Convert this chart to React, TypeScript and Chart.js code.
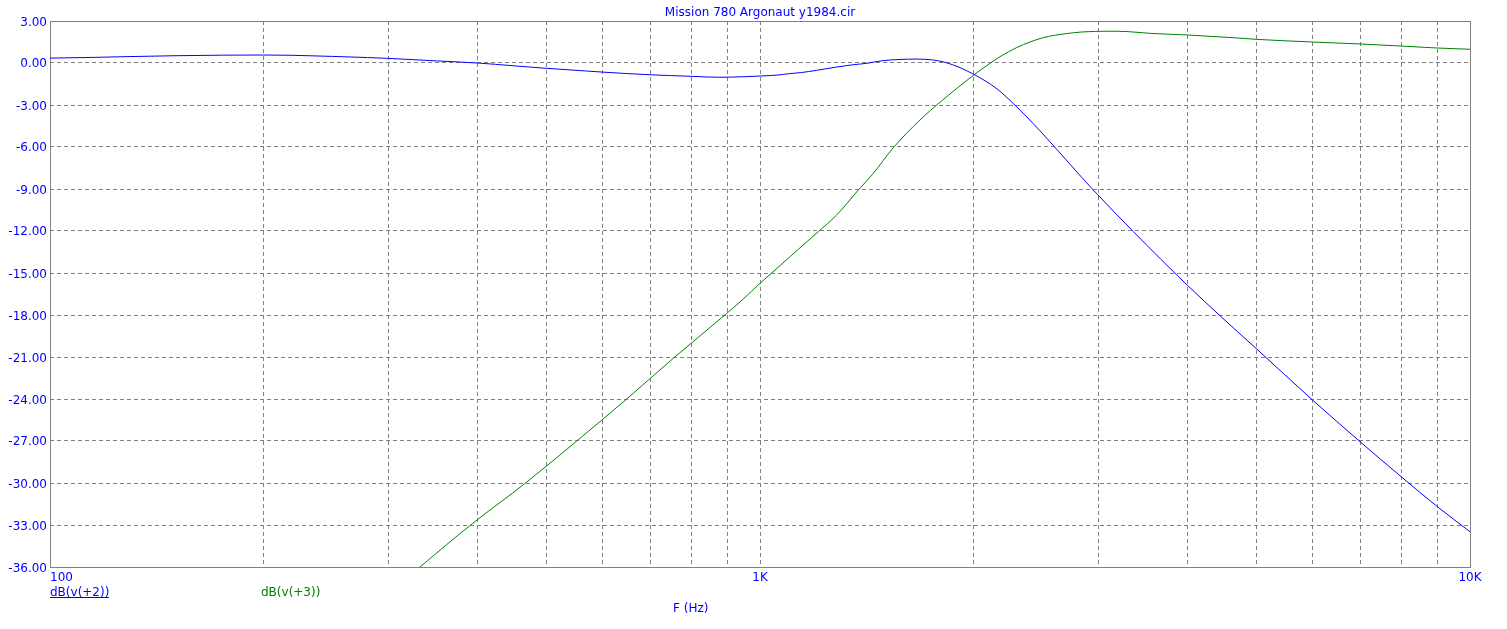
import React, { useEffect, useRef } from 'react';
import { Chart, registerables } from 'chart.js';

Chart.register(...registerables);

const TITLE = 'Mission 780 Argonaut y1984.cir';
const X_AXIS_TITLE = 'F (Hz)';
const SERIES_NAMES = ['dB(v(+2))', 'dB(v(+3))'];
const SERIES_COLORS = ['#0000ff', '#008000'];

const X_TICK_VALUES = [100, 1000, 10000];
const X_TICK_LABELS = ['100', '1K', '10K'];
const X_GRID_VALUES = [100, 200, 300, 400, 500, 600, 700, 800, 900, 1000, 2000, 3000, 4000, 5000, 6000, 7000, 8000, 9000, 10000];
const Y_TICK_VALUES = [-36, -33, -30, -27, -24, -21, -18, -15, -12, -9, -6, -3, 0, 3];

// dB(v(+2)) — blue
const blueFreq = [100, 115, 130, 150, 175, 200, 220, 250, 280, 300, 350, 400, 450, 500, 600, 700, 800, 875, 950, 1000, 1060, 1100, 1140, 1200, 1267, 1340, 1415, 1490, 1570, 1660, 1750, 1822, 1913, 2000, 2080, 2157, 2272, 2424, 2535, 2947, 3357, 4000, 4467, 5000, 6000, 7000, 8000, 9000, 10000];
const blueDb = [0.35, 0.4, 0.46, 0.52, 0.56, 0.57, 0.55, 0.47, 0.39, 0.33, 0.15, 0.0, -0.2, -0.38, -0.65, -0.84, -0.95, -1.02, -0.98, -0.93, -0.86, -0.76, -0.69, -0.53, -0.33, -0.15, -0.02, 0.17, 0.25, 0.28, 0.22, 0.05, -0.33, -0.81, -1.3, -1.85, -2.88, -4.31, -5.38, -9.07, -12.05, -15.88, -18.15, -20.4, -24.07, -27.05, -29.55, -31.7, -33.48];

// dB(v(+3)) — green
const greenFreq = [310, 332, 394, 467, 552, 649, 755, 898, 947, 1000, 1208, 1282, 1376, 1444, 1541, 1680, 1803, 2000, 2109, 2178, 2299, 2400, 2500, 2600, 2700, 2850, 3100, 3300, 3540, 4000, 4635, 5000, 6000, 7000, 8000, 9000, 10000];
const greenDb = [-37.3, -36.0, -32.88, -30.02, -27.0, -24.0, -21.09, -17.88, -16.86, -15.74, -12.05, -10.86, -9.07, -7.88, -6.05, -4.07, -2.7, -0.86, -0.02, 0.45, 1.1, 1.5, 1.8, 1.98, 2.1, 2.22, 2.27, 2.24, 2.12, 2.0, 1.81, 1.69, 1.5, 1.36, 1.21, 1.07, 0.98];

const FONT = '12px "DejaVu Sans"';
const TEXT_BLUE = '#0000ff';
const FRAME = '#808080';

const overlayPlugin = {
  id: 'overlay',
  beforeDatasetsDraw(chart: any) {
    const { ctx, chartArea } = chart;
    ctx.save();
    ctx.strokeStyle = FRAME;
    ctx.lineWidth = 1;
    ctx.setLineDash([]);
    ctx.strokeRect(chartArea.left + 0.5, chartArea.top + 0.5, chartArea.right - chartArea.left, chartArea.bottom - chartArea.top);
    ctx.restore();
  },
  afterDraw(chart: any) {
    const { ctx, chartArea, scales } = chart;
    const xs = scales.x;
    const ys = scales.y;
    ctx.save();
    ctx.font = FONT;
    ctx.fillStyle = TEXT_BLUE;
    ctx.textBaseline = 'alphabetic';

    // title
    ctx.textAlign = 'center';
    ctx.fillText(TITLE, (chartArea.left + chartArea.right) / 2, 16);

    // y tick labels
    ctx.textAlign = 'right';
    Y_TICK_VALUES.forEach((v) => {
      const py = ys.getPixelForValue(v);
      ctx.fillText(v.toFixed(2), chartArea.left - 3, Math.round(py + 4.5));
    });

    // x tick labels
    X_TICK_VALUES.forEach((v, i) => {
      const px = xs.getPixelForValue(v);
      ctx.textAlign = i === 0 ? 'left' : 'center';
      ctx.fillText(X_TICK_LABELS[i], i === 0 ? chartArea.left : px, chartArea.bottom + 14);
    });

    // series legend
    ctx.textAlign = 'left';
    const legY = chartArea.bottom + 29;
    ctx.fillStyle = SERIES_COLORS[0];
    ctx.fillText(SERIES_NAMES[0], chartArea.left, legY);
    const w0 = ctx.measureText(SERIES_NAMES[0]).width;
    ctx.fillRect(chartArea.left, legY + 1, Math.round(w0), 1);
    ctx.fillStyle = SERIES_COLORS[1];
    ctx.fillText(SERIES_NAMES[1], chartArea.left + 211, legY);

    // x axis title
    ctx.fillStyle = TEXT_BLUE;
    ctx.fillText(X_AXIS_TITLE, 673, chartArea.bottom + 45);
    ctx.restore();
  },
};

export default function App() {
  const ref = useRef<HTMLCanvasElement>(null);
  useEffect(() => {
    document.body.style.margin = '0';
    document.body.style.overflow = 'hidden';
    const canvas = ref.current!;
    const chart = new Chart(canvas, {
      type: 'line',
      data: {
        datasets: [
          {
            label: SERIES_NAMES[0],
            data: blueFreq.map((f, i) => ({ x: f, y: blueDb[i] })),
            borderColor: SERIES_COLORS[0],
            borderWidth: 1,
            pointRadius: 0,
            fill: false,
            cubicInterpolationMode: 'monotone',
          },
          {
            label: SERIES_NAMES[1],
            data: greenFreq.map((f, i) => ({ x: f, y: greenDb[i] })),
            borderColor: SERIES_COLORS[1],
            borderWidth: 1,
            pointRadius: 0,
            fill: false,
            cubicInterpolationMode: 'monotone',
          },
        ],
      },
      options: {
        responsive: false,
        animation: false,
        devicePixelRatio: 1,
        layout: { padding: { top: 21, right: 37, left: 0, bottom: 0 } },
        plugins: {
          legend: { display: false },
          title: { display: false },
          tooltip: { enabled: false },
        },
        events: [],
        scales: {
          x: {
            type: 'logarithmic',
            min: 100,
            max: 10000,
            ticks: { display: false },
            grid: { color: FRAME, lineWidth: 1, drawTicks: false },
            border: { display: false, dash: [4, 3] },
            afterBuildTicks: (scale: any) => {
              scale.ticks = X_GRID_VALUES.map((v) => ({ value: v }));
            },
            afterFit: (scale: any) => {
              scale.height = 62;
            },
          },
          y: {
            type: 'linear',
            min: -36,
            max: 3,
            ticks: { display: false, stepSize: 3 },
            grid: { color: FRAME, lineWidth: 1, drawTicks: false },
            border: { display: false, dash: [4, 3] },
            afterBuildTicks: (scale: any) => {
              scale.ticks = Y_TICK_VALUES.map((v) => ({ value: v }));
            },
            afterFit: (scale: any) => {
              scale.width = 50;
            },
          },
        },
      } as any,
      plugins: [overlayPlugin],
    });
    return () => chart.destroy();
  }, []);
  return (
    <div style={{ width: 1507, height: 629 }}>
      <canvas ref={ref} width={1507} height={629} style={{ display: 'block' }} />
    </div>
  );
}
